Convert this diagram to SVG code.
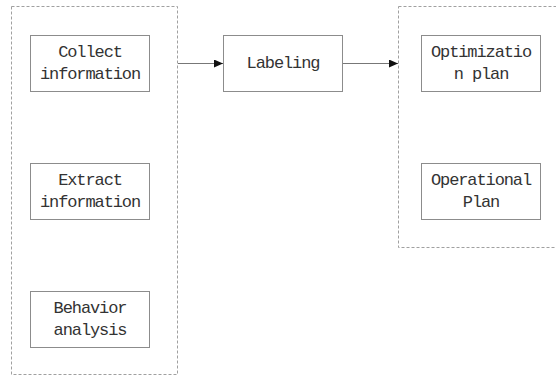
<svg xmlns="http://www.w3.org/2000/svg" width="556" height="376" viewBox="0 0 556 376">
<style>
.grp{fill:none;stroke:#a0a0a0;stroke-width:1;stroke-dasharray:3,2}
.box{fill:#fff;stroke:#8c8c8c;stroke-width:1}
.t{font-family:"Liberation Mono","DejaVu Sans Mono",monospace;font-size:17px;letter-spacing:-1.1px;fill:#333;text-anchor:middle}
.c{stroke:#777;stroke-width:1;fill:none}
</style>
<defs>
<marker id="ah" markerWidth="9" markerHeight="8" refX="9" refY="4" orient="auto" markerUnits="userSpaceOnUse">
<path d="M0,0 L9,4 L0,8 Z" fill="#111"/>
</marker>
</defs>
<rect class="grp" x="11.5" y="6.5" width="166" height="368"/>
<rect class="grp" x="398.5" y="6.5" width="160" height="241"/>
<g id="connectors">
<line class="c" x1="178" y1="63.5" x2="223" y2="63.5" marker-end="url(#ah)"/>
<line class="c" x1="343" y1="63.5" x2="398" y2="63.5" marker-end="url(#ah)"/>
</g>
<g id="collect">
<rect class="box" x="30.5" y="35.5" width="119" height="56"/>
<text class="t" x="90" y="57">Collect</text>
<text class="t" x="90" y="79">information</text>
</g>
<g id="extract">
<rect class="box" x="30.5" y="163.5" width="119" height="56"/>
<text class="t" x="90" y="185">Extract</text>
<text class="t" x="90" y="207">information</text>
</g>
<g id="behavior">
<rect class="box" x="30.5" y="291.5" width="119" height="56"/>
<text class="t" x="90" y="313">Behavior</text>
<text class="t" x="90" y="335">analysis</text>
</g>
<g id="labeling">
<rect class="box" x="223.5" y="35.5" width="119" height="56"/>
<text class="t" x="283" y="68">Labeling</text>
</g>
<g id="optimization">
<rect class="box" x="421.5" y="35.5" width="119" height="56"/>
<text class="t" x="481" y="57">Optimizatio</text>
<text class="t" x="481" y="79">n plan</text>
</g>
<g id="operational">
<rect class="box" x="421.5" y="163.5" width="119" height="56"/>
<text class="t" x="481" y="185">Operational</text>
<text class="t" x="481" y="207">Plan</text>
</g>
</svg>
